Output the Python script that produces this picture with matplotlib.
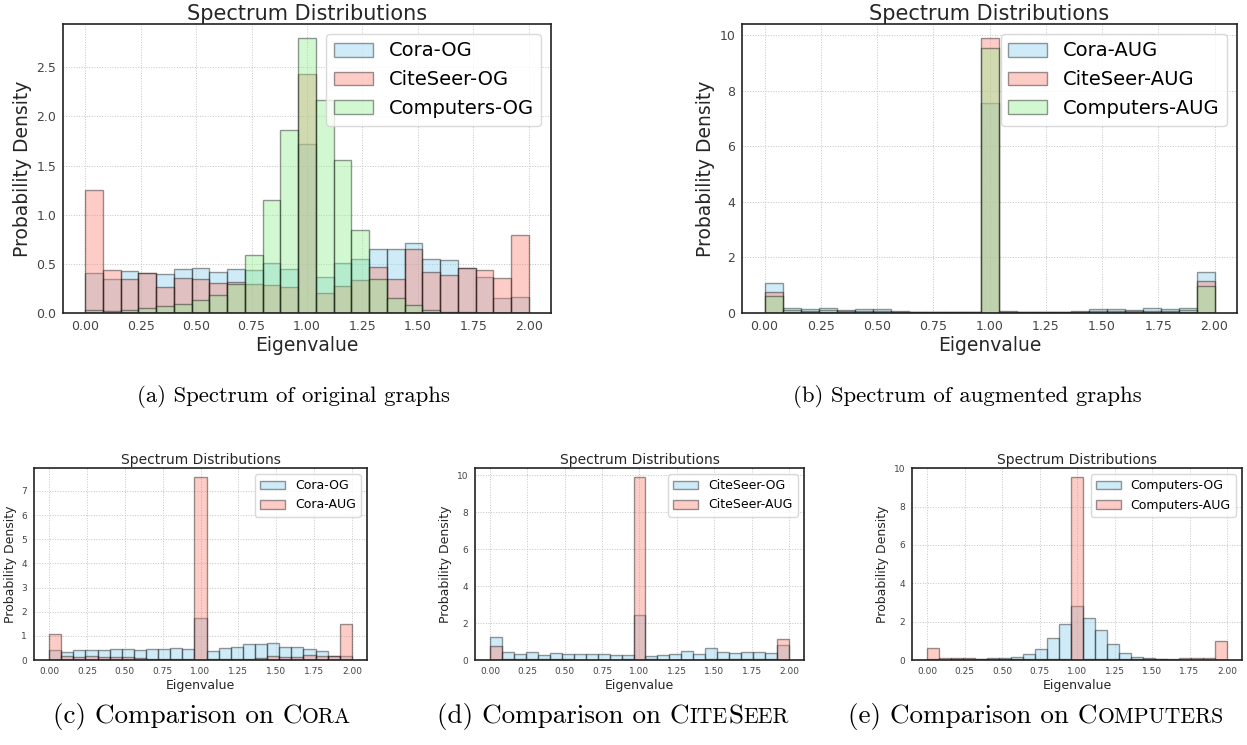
import numpy as np
import matplotlib
matplotlib.use("Agg")
import matplotlib.pyplot as plt

# 25 equal bins on [0, 2], heights are densities
bin_lo, bin_hi, n_bins = 0.0, 2.0, 25

cora_og = [0.41, 0.35, 0.43, 0.41, 0.40, 0.45, 0.46, 0.42, 0.45, 0.44, 0.51, 0.45, 1.72,
           0.37, 0.51, 0.55, 0.65, 0.65, 0.71, 0.55, 0.54, 0.46, 0.37, 0.15, 0.16]
citeseer_og = [1.25, 0.44, 0.35, 0.41, 0.26, 0.36, 0.35, 0.31, 0.32, 0.30, 0.28, 0.26, 2.43,
               0.20, 0.27, 0.34, 0.47, 0.35, 0.65, 0.42, 0.39, 0.46, 0.44, 0.36, 0.79]
computers_og = [0.03, 0.02, 0.03, 0.05, 0.07, 0.09, 0.13, 0.18, 0.30, 0.59, 1.15, 1.86, 2.80,
                2.17, 1.56, 0.84, 0.35, 0.15, 0.08, 0.03, 0.01, 0.01, 0.005, 0.003, 0.002]

cora_aug = [1.08, 0.17, 0.13, 0.18, 0.12, 0.14, 0.14, 0.07, 0.04, 0.04, 0.04, 0.05, 7.57,
            0.06, 0.03, 0.03, 0.05, 0.08, 0.16, 0.14, 0.12, 0.19, 0.15, 0.18, 1.48]
citeseer_aug = [0.76, 0.04, 0.03, 0.04, 0.03, 0.03, 0.03, 0.02, 0.02, 0.02, 0.02, 0.04, 9.90,
                0.04, 0.02, 0.02, 0.02, 0.02, 0.03, 0.03, 0.03, 0.03, 0.03, 0.04, 1.16]
computers_aug = [0.62, 0.09, 0.08, 0.09, 0.07, 0.07, 0.06, 0.04, 0.03, 0.03, 0.03, 0.03, 9.54,
                 0.04, 0.03, 0.03, 0.04, 0.05, 0.07, 0.07, 0.07, 0.08, 0.08, 0.09, 0.98]

edges = np.linspace(bin_lo, bin_hi, n_bins + 1)
xticks = np.arange(0, 2.01, 0.25)

BLUE, RED, GREEN = "skyblue", "salmon", "lightgreen"


def plot_spectrum(ax, series, labels, colors, fs):
    """Overlayed density histograms + styling. fs = (tick, label, title, legend)."""
    for vals, lab, col in zip(series, labels, colors):
        ax.hist(edges[:-1], bins=edges, weights=vals, color=col, alpha=0.4,
                edgecolor="black", linewidth=1.0, label=lab)
    ax.set_title("Spectrum Distributions", fontsize=fs[2], pad=3, color="#262626")
    ax.set_xlabel("Eigenvalue", fontsize=fs[1], labelpad=2, color="#262626")
    ax.set_ylabel("Probability Density", fontsize=fs[1], labelpad=3, color="#262626")
    ax.set_xticks(xticks)
    ax.grid(True, linestyle=":", color="#c4c4c4", linewidth=0.7)
    ax.set_axisbelow(True)
    ax.tick_params(length=0, labelsize=fs[0], labelcolor="#444444", pad=5)
    for sp in ax.spines.values():
        sp.set_color("#222222")
        sp.set_linewidth(1.2)
    ax.legend(fontsize=fs[3], loc="upper right", fancybox=True, framealpha=0.8,
              edgecolor="#d0d0d0")


fig = plt.figure(figsize=(12.47, 7.45), dpi=100)

W, H = 1247.0, 745.0
ax_a = fig.add_axes([63 / W, 1 - 313 / H, 488 / W, 289 / H])
ax_b = fig.add_axes([742 / W, 1 - 313 / H, 495 / W, 289 / H])
ax_c = fig.add_axes([34 / W, 1 - 660 / H, 333 / W, 192 / H])
ax_d = fig.add_axes([475 / W, 1 - 660 / H, 329 / W, 192 / H])
ax_e = fig.add_axes([912 / W, 1 - 660 / H, 330 / W, 192 / H])

big = (9, 13.5, 15, 14)
small = (6.5, 9, 10, 9)

plot_spectrum(ax_a, [cora_og, citeseer_og, computers_og],
              ["Cora-OG", "CiteSeer-OG", "Computers-OG"], [BLUE, RED, GREEN], big)
plot_spectrum(ax_b, [cora_aug, citeseer_aug, computers_aug],
              ["Cora-AUG", "CiteSeer-AUG", "Computers-AUG"], [BLUE, RED, GREEN], big)
plot_spectrum(ax_c, [cora_og, cora_aug], ["Cora-OG", "Cora-AUG"], [BLUE, RED], small)
plot_spectrum(ax_d, [citeseer_og, citeseer_aug], ["CiteSeer-OG", "CiteSeer-AUG"], [BLUE, RED], small)
plot_spectrum(ax_e, [computers_og, computers_aug], ["Computers-OG", "Computers-AUG"], [BLUE, RED], small)
ax_a.set_yticks(np.arange(0, 2.6, 0.5))


def caption(xc, yb, pieces, size=16):
    # pieces: (text, scale) – scale < 1 fakes latex small caps
    r = fig.canvas.get_renderer()
    texts = [fig.text(0, yb, s, fontsize=size * k, family="cmr10", ha="left",
                      va="baseline", color="black") for s, k in pieces]
    widths = [t.get_window_extent(r).width for t in texts]
    cur = xc * W - sum(widths) / 2
    for t, w in zip(texts, widths):
        t.set_x(cur / W)
        cur += w


sc = 0.8
caption(293 / W, 1 - 402 / H, [("(a) Spectrum of original graphs", 1)], 16.4)
caption(967 / W, 1 - 402 / H, [("(b) Spectrum of augmented graphs", 1)], 16.4)
caption(202 / W, 1 - 723 / H, [("(c) Comparison on C", 1), ("ORA", sc)], 19.5)
caption(613 / W, 1 - 723 / H, [("(d) Comparison on C", 1), ("ITE", sc), ("S", 1), ("EER", sc)], 19.5)
caption(1036 / W, 1 - 723 / H, [("(e) Comparison on C", 1), ("OMPUTERS", sc)], 19.5)

fig.savefig("out.png", dpi=100)
